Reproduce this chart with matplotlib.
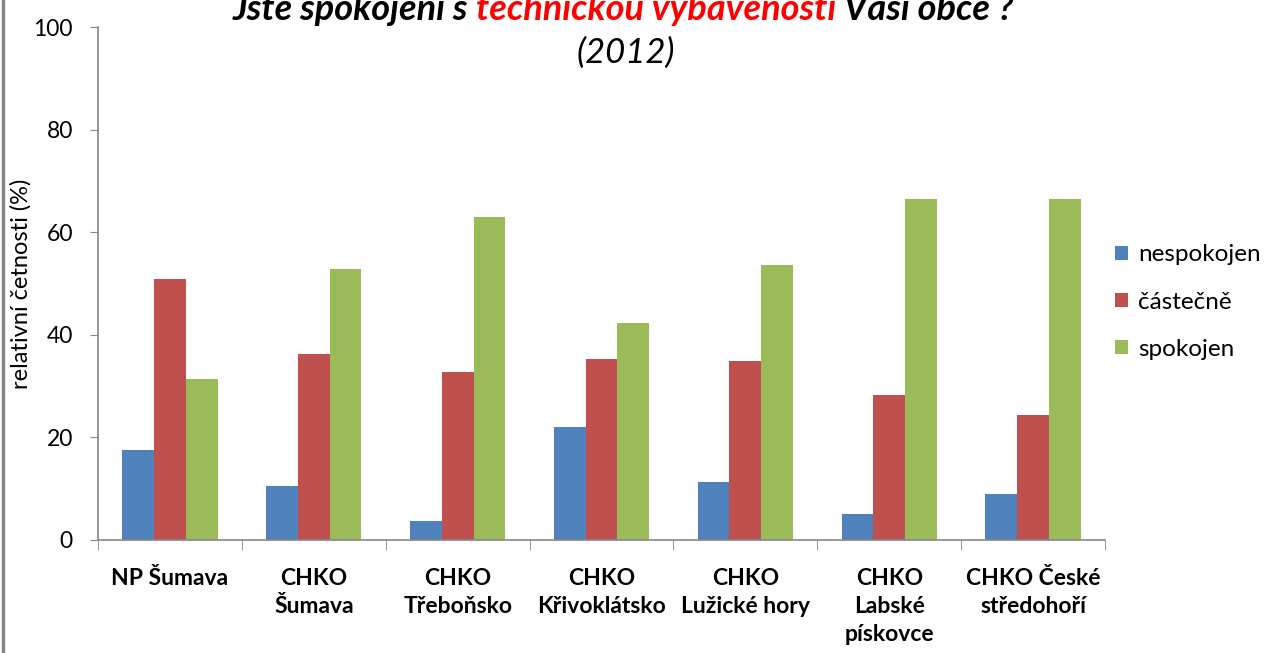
import numpy as np
import matplotlib
matplotlib.use("Agg")
import matplotlib.pyplot as plt
from matplotlib.lines import Line2D

# data
categories = ["NP Šumava", "CHKO\nŠumava", "CHKO\nTřeboňsko", "CHKO\nKřivoklátsko",
              "CHKO\nLužické hory", "CHKO\nLabské\npískovce", "CHKO České\nstředohoří"]
series_names = ["nespokojen", "částečně", "spokojen"]
nespokojen = [17.5, 10.5, 3.8, 22.0, 11.3, 5.1, 9.0]
castecne = [50.8, 36.3, 32.8, 35.3, 34.8, 28.3, 24.3]
spokojen = [31.4, 52.8, 62.9, 42.3, 53.6, 66.4, 66.4]
colors = ["#4F81BD", "#C0504D", "#9BBB59"]

plt.rcParams['font.family'] = ['Lato', 'DejaVu Sans']
axis_grey = "#868686"

fig = plt.figure(figsize=(12.66, 6.53), dpi=100)
ax = fig.add_axes([98 / 1266, 113 / 653, 1007 / 1266, 513 / 653])

x = np.arange(len(categories))
w = 0.221
for i, (vals, name) in enumerate(zip([nespokojen, castecne, spokojen], series_names)):
    ax.bar(x + (i - 1) * w, vals, width=w, color=colors[i], label=name, zorder=2)

ax.set_xlim(-0.5, len(categories) - 0.5)
ax.set_ylim(0, 100)
ax.set_yticks([0, 20, 40, 60, 80, 100])
ax.tick_params(axis='y', labelsize=16.5, direction='out', length=6, color=axis_grey, pad=12)

ax.set_xticks(x)
ax.set_xticklabels(categories, fontsize=16.5, fontweight='bold', linespacing=1.42, va='top')
ax.tick_params(axis='x', which='major', length=0, pad=20)
ax.set_xticks(np.arange(len(categories) + 1) - 0.5, minor=True)
ax.tick_params(axis='x', which='minor', length=7, color=axis_grey, direction='out')

for s in ['top', 'right']:
    ax.spines[s].set_visible(False)
for s in ['left', 'bottom']:
    ax.spines[s].set_color(axis_grey)
    ax.spines[s].set_linewidth(1.2)

ax.set_ylabel("relativní četnosti (%)", fontsize=17)
ax.yaxis.set_label_coords(-66 / 1007, 0.5)

leg = ax.legend(loc='center left', bbox_to_anchor=(1115 / 1266, 351 / 653),
                bbox_transform=fig.transFigure, frameon=False, fontsize=17.5,
                handlelength=0.55, handleheight=0.55, handletextpad=0.4, labelspacing=1.07,
                borderaxespad=0, borderpad=0)

# title, first line partly cut at the top edge
fig.canvas.draw()
renderer = fig.canvas.get_renderer()
parts = [("Jste spokojeni s ", "black"), ("technickou vybaveností", "red"), (" Vaší obce ?", "black")]
texts = []
for s, c in parts:
    t = fig.text(0, 0.969, s, color=c, fontsize=26, fontweight='bold', fontstyle='italic',
                 ha='left', va='baseline')
    texts.append(t)
widths = [t.get_window_extent(renderer).width for t in texts]
total = sum(widths)
xpos = 623 - total / 2
for t, wdt in zip(texts, widths):
    t.set_x(xpos / 1266)
    xpos += wdt
fig.text(626 / 1266, 590 / 653, "(2012)", fontsize=25, fontstyle='italic', ha='center', va='baseline')

# chart border on the left
fig.add_artist(Line2D([3 / 1266, 3 / 1266], [0, 1], color=axis_grey, lw=2.5, transform=fig.transFigure))

fig.savefig("out.png", dpi=100)
